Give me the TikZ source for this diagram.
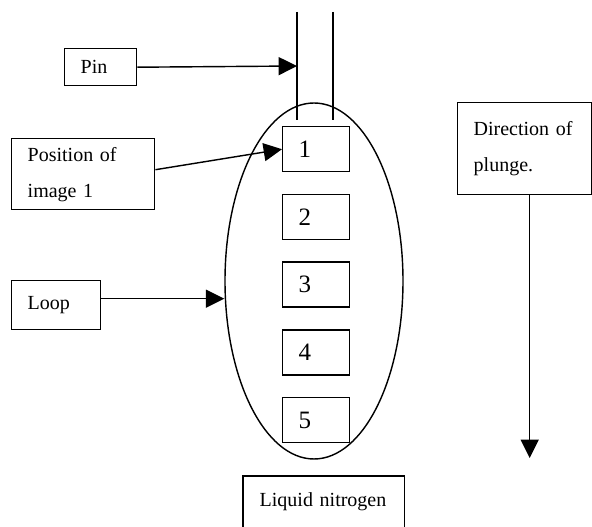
\documentclass[tikz,border=0pt]{standalone}
\usepackage{fontspec}
\setmainfont{Liberation Serif}
\usetikzlibrary{shapes.geometric, arrows.meta, positioning}

\begin{document}
\begin{tikzpicture}[
    x=0.6pt, y=-0.6pt,
    line width=0.85pt,
    note/.style={draw, rectangle, anchor=north west, align=left, inner xsep=9.6pt, inner ysep=0pt, font=\fontsize{12}{21.6}\selectfont},
    slot/.style={note, text width=21pt, minimum height=27pt, font=\fontsize{15}{18}\selectfont},
    pointer/.style={-{Triangle[length=11pt, width=10.8pt]}}
]
\useasboundingbox (0,0) rectangle (592,527);

% Loop holding the five image positions
\node[draw, ellipse, minimum width=106.8pt, minimum height=213.6pt, inner sep=0pt] (ring) at (314,281) {};
\foreach \n [evaluate=\n as \ytop using 126+67.75*(\n-1)] in {1,...,5}
    \node[slot] (img\n) at (282,\ytop) {\n};

% Pin
\draw (297,12) -- (297,120);
\draw (333,12) -- (333,120);
\coordinate (pintip) at (297,66);

% Labels
\node[note, text width=24pt, minimum height=22.2pt] (pin) at (64,48) {Pin};
\node[note, text width=66.6pt, minimum height=42.6pt] (pos) at (11,138) {Position of\\image 1};
\node[note, text width=34.2pt, minimum height=29.4pt] (loop) at (11,280) {Loop};
\node[note, text width=61.2pt, minimum height=55.2pt] (dir) at (457,102) {Direction of\\plunge.\\[-7pt]};
\node[note, draw=none, text width=76.8pt, minimum height=30.6pt] (ln2) at (243,476) {Liquid nitrogen};
\draw (ln2.south west) -- (ln2.north west) -- (ln2.north east) -- (ln2.south east);

% Arrows
\coordinate (plunge) at (529,458);
\draw[pointer] (pin.east) -- (pintip);
\draw[pointer] ([yshift=2.7pt]pos.east) -- (img1.west);
\draw[pointer] ([yshift=3.9pt]loop.east) -- ([yshift=3.9pt]loop.east -| ring.west);
\draw[pointer] ([xshift=3pt]dir.south) -- ([xshift=3pt]dir.south |- plunge);

\end{tikzpicture}
\end{document}
